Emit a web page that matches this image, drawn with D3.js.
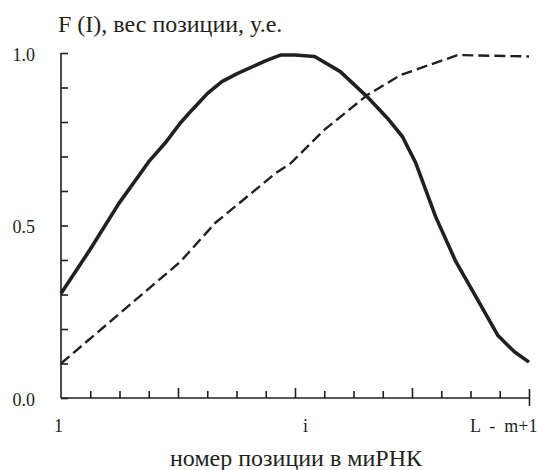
<!DOCTYPE html>
<html>
<head>
<meta charset="utf-8">
<script src="https://cdn.jsdelivr.net/npm/d3@7"></script>
</head>
<body style="margin:0">
<script>
// данные (x — номер деления оси, 0..16)
var solidX = [0, 1.0, 1.98, 3.0, 3.56, 4.08, 4.48, 5.01, 5.5, 6.04, 7.01, 7.5, 8.0, 8.67, 9.55, 10.47, 11.16, 11.67, 12.13, 12.81, 13.5, 14.12, 14.93, 15.5, 16.0];
var solidY = [0.303, 0.431, 0.564, 0.685, 0.739, 0.797, 0.835, 0.883, 0.917, 0.941, 0.978, 0.994, 0.994, 0.99, 0.946, 0.873, 0.811, 0.758, 0.681, 0.525, 0.395, 0.303, 0.182, 0.134, 0.104];

var dashX = [0, 4.08, 5.28, 7.33, 7.85, 9.0, 10.47, 11.61, 12.75, 13.56, 16.0];
var dashY = [0.10, 0.395, 0.508, 0.651, 0.68, 0.777, 0.878, 0.936, 0.970, 0.994, 0.99];

var yTicks = [0, 0.1, 0.2, 0.3, 0.4, 0.5, 0.6, 0.7, 0.8, 0.9, 1.0];
var yTickLabels = {0: "0.0", 0.5: "0.5", 1: "1.0"};
var xTicks = d3.range(0, 17);
var xTickLabels = {0: "1", 8: "i", 16: "L  -  m+1"};
var xMajor = [4, 8, 12];

var yTitle = "F (I), вес позиции, у.е.";
var xTitle = "номер позиции в миРНК";

var W = 537, H = 470;
var margin = {left: 61, right: 8, top: 53, bottom: 72};
var ink = "#231f20";
var serif = "'Liberation Serif'";

var svg = d3.select("body").append("svg")
  .attr("width", W).attr("height", H)
  .style("display", "block")
  .style("font-family", serif);

var x = d3.scaleLinear().domain([0, 16]).range([margin.left, W - margin.right]);
var y = d3.scaleLinear().domain([0, 1]).range([H - margin.bottom, margin.top]);

// ось Y, деления внутрь
var gy = svg.append("g")
  .attr("transform", "translate(" + margin.left + ",0)")
  .call(d3.axisLeft(y)
    .tickValues(yTicks)
    .tickSize(-7)
    .tickPadding(26)
    .tickFormat(function(d){ var k = Math.round(d*10)/10; return yTickLabels[k] || ""; }));
gy.attr("font-family", null).attr("font-size", null);
gy.select(".domain").attr("stroke", ink).attr("stroke-width", 1.6)
  .attr("d", "M0," + y(1) + "V" + y(0));
gy.selectAll(".tick line").attr("stroke", ink).attr("stroke-width", 1.6);
gy.selectAll(".tick text").attr("dy", "0.4em")
  .style("font-family", function(){ return serif; })
  .attr("font-size", 18).attr("fill", ink);

// ось X, деления вверх
var gx = svg.append("g")
  .attr("transform", "translate(0," + y(0) + ")")
  .call(d3.axisBottom(x)
    .tickValues(xTicks)
    .tickSize(-7)
    .tickPadding(0)
    .tickFormat(function(d){ return xTickLabels[d] || ""; }));
gx.attr("font-family", null).attr("font-size", null);
gx.select(".domain").attr("stroke", ink).attr("stroke-width", 1.6)
  .attr("d", "M" + x(0) + ",0H" + x(16));
gx.selectAll(".tick line").attr("stroke", ink).attr("stroke-width", 1.6)
  .attr("y2", function(d){ return xMajor.indexOf(d) >= 0 ? -10 : -7; })
  .attr("y1", function(d){ return d === 16 ? 8 : 0; });
gx.selectAll(".tick line").filter(function(d){ return d === 16; }).attr("y2", -9);
gx.selectAll(".tick line").filter(function(d){ return d === 0; }).remove();
gx.selectAll(".tick text")
  .style("font-family", function(){ return serif; })
  .attr("font-size", 18).attr("fill", ink)
  .attr("xml:space", "preserve")
  .attr("y", 34).attr("dy", 0)
  .attr("text-anchor", function(d){ return d === 16 ? "end" : "middle"; })
  .attr("dx", function(d){ return d === 0 ? -3 : d === 8 ? 10 : 8; });

// кривые
var line = d3.line().x(function(d){ return x(d[0]); }).y(function(d){ return y(d[1]); });

svg.append("path")
  .datum(dashX.map(function(v, i){ return [v, dashY[i]]; }))
  .attr("d", line)
  .attr("fill", "none").attr("stroke", ink)
  .attr("stroke-width", 2.4).attr("stroke-dasharray", "11,5");

svg.append("path")
  .datum(solidX.map(function(v, i){ return [v, solidY[i]]; }))
  .attr("d", line)
  .attr("fill", "none").attr("stroke", ink)
  .attr("stroke-width", 3.6).attr("stroke-linejoin", "round");

// подписи осей
var titles = [
  {t: yTitle, x: 58, y: 32, anchor: "start"},
  {t: xTitle, x: 296, y: 466, anchor: "middle"}
];
svg.selectAll("text.title").data(titles).join("text")
  .attr("class", "title")
  .attr("x", function(d){ return d.x; }).attr("y", function(d){ return d.y; })
  .attr("text-anchor", function(d){ return d.anchor; })
  .attr("font-size", 24).attr("fill", ink)
  .style("font-family", function(){ return serif; })
  .text(function(d){ return d.t; });
</script>
</body>
</html>
